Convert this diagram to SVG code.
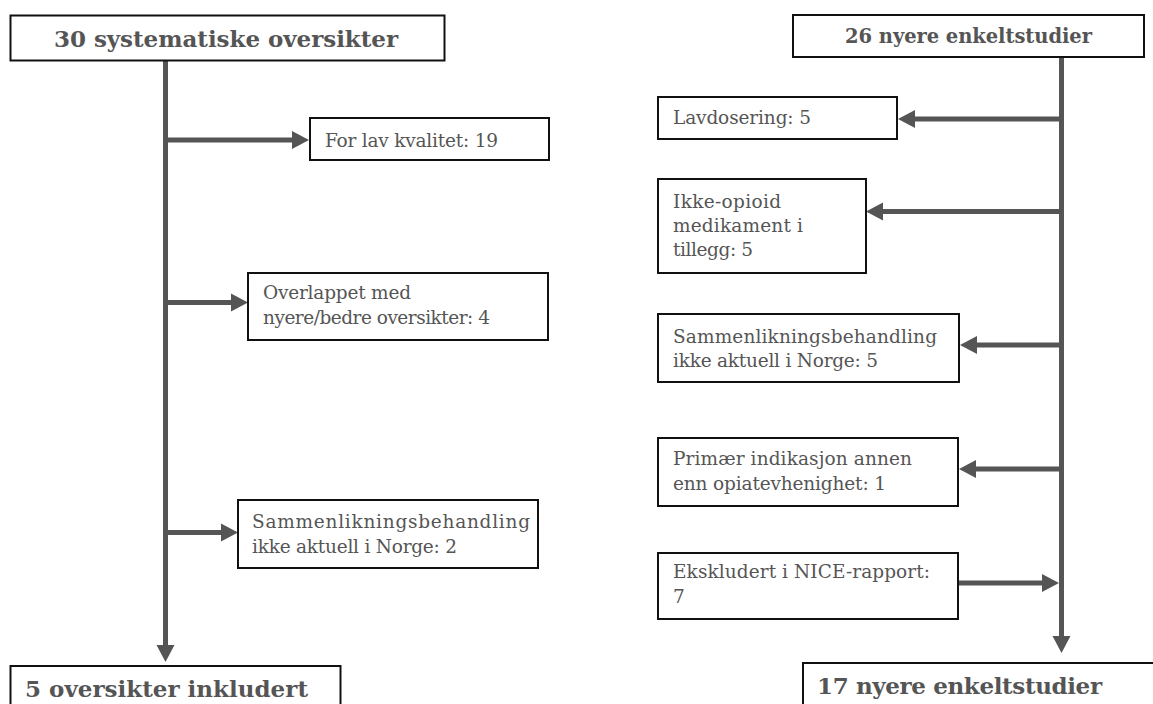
<svg xmlns="http://www.w3.org/2000/svg" width="1153" height="704" viewBox="0 0 1153 704">
<style>
.box{fill:#fff;stroke:#111;stroke-width:2}
.t{font-family:"DejaVu Serif","Liberation Serif",serif;font-size:18.5px;fill:#555}
.b{font-family:"DejaVu Serif","Liberation Serif",serif;font-weight:bold;font-size:23px;fill:#555}
.c{fill:none;stroke:#555;stroke-width:5}
</style>
<defs>
<marker id="ah" markerUnits="userSpaceOnUse" markerWidth="18" markerHeight="20" refX="0" refY="10" orient="auto">
<path d="M0,1 L17,10 L0,19 z" fill="#555"/>
</marker>
</defs>
<rect width="1153" height="704" fill="#fff"/>
<g id="connectors">
<path class="c" d="M165.5,61 V645" marker-end="url(#ah)"/>
<path class="c" d="M165.5,140 H292" marker-end="url(#ah)"/>
<path class="c" d="M165.5,302.5 H231" marker-end="url(#ah)"/>
<path class="c" d="M165.5,532.5 H221" marker-end="url(#ah)"/>
<path class="c" d="M1061.5,57 V636" marker-end="url(#ah)"/>
<path class="c" d="M1061.5,119 H915" marker-end="url(#ah)"/>
<path class="c" d="M1061.5,211.5 H883" marker-end="url(#ah)"/>
<path class="c" d="M1061.5,345 H977" marker-end="url(#ah)"/>
<path class="c" d="M1061.5,469 H976" marker-end="url(#ah)"/>
<path class="c" d="M958,583 H1042" marker-end="url(#ah)"/>
</g>
<g id="n-left-top"><rect class="box" x="10.5" y="15.5" width="434" height="45"/><text class="b" x="54" y="47" textLength="344" lengthAdjust="spacing">30 systematiske oversikter</text></g>
<g id="n-lav"><rect class="box" x="310" y="118" width="239" height="42"/><text class="t" x="325" y="147" textLength="173" lengthAdjust="spacing">For lav kvalitet: 19</text></g>
<g id="n-overlapp"><rect class="box" x="248" y="273" width="300" height="67"/><text class="t" x="263" y="299" textLength="148" lengthAdjust="spacing">Overlappet med</text><text class="t" x="263" y="324" textLength="227" lengthAdjust="spacing">nyere/bedre oversikter: 4</text></g>
<g id="n-samm-left"><rect class="box" x="238" y="500" width="300" height="68"/><text class="t" x="252" y="528" textLength="278" lengthAdjust="spacing">Sammenlikningsbehandling</text><text class="t" x="252" y="553" textLength="205" lengthAdjust="spacing">ikke aktuell i Norge: 2</text></g>
<g id="n-left-bottom"><rect class="box" x="10.5" y="666" width="330" height="60"/><text class="b" x="25" y="697" textLength="283" lengthAdjust="spacing">5 oversikter inkludert</text></g>
<g id="n-right-top"><rect class="box" x="793" y="15" width="351" height="42"/><text class="b" x="845" y="43" textLength="247" lengthAdjust="spacing" style="font-size:19.5px">26 nyere enkeltstudier</text></g>
<g id="n-lavdos"><rect class="box" x="658" y="97" width="239" height="42"/><text class="t" x="673" y="124" textLength="138" lengthAdjust="spacing">Lavdosering: 5</text></g>
<g id="n-ikke"><rect class="box" x="658" y="179" width="208" height="94"/><text class="t" x="673" y="208" textLength="108" lengthAdjust="spacing">Ikke-opioid</text><text class="t" x="673" y="232" textLength="130" lengthAdjust="spacing">medikament i</text><text class="t" x="673" y="256" textLength="80" lengthAdjust="spacing">tillegg: 5</text></g>
<g id="n-samm-right"><rect class="box" x="658" y="314" width="301" height="68"/><text class="t" x="673" y="343" textLength="264" lengthAdjust="spacing">Sammenlikningsbehandling</text><text class="t" x="673" y="367" textLength="205" lengthAdjust="spacing">ikke aktuell i Norge: 5</text></g>
<g id="n-prim"><rect class="box" x="658" y="438" width="300" height="68"/><text class="t" x="673" y="465" textLength="239" lengthAdjust="spacing">Primær indikasjon annen</text><text class="t" x="673" y="490" textLength="213" lengthAdjust="spacing">enn opiatevhenighet: 1</text></g>
<g id="n-eksk"><rect class="box" x="658" y="553" width="300" height="66"/><text class="t" x="673" y="578" textLength="257" lengthAdjust="spacing">Ekskludert i NICE-rapport:</text><text class="t" x="673" y="603">7</text></g>
<g id="n-right-bottom"><rect class="box" x="803" y="663" width="360" height="60"/><text class="b" x="817" y="694" textLength="285" lengthAdjust="spacing">17 nyere enkeltstudier</text></g>
</svg>
